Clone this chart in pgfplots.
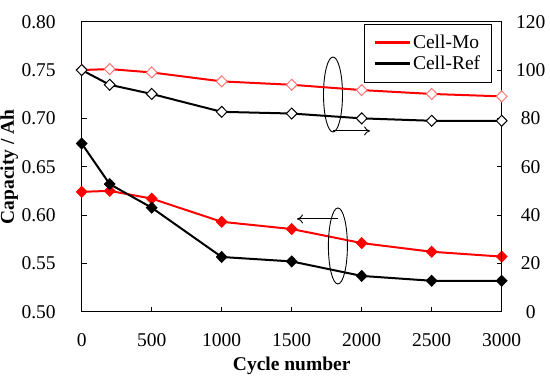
\documentclass[border=0pt]{standalone}
\usepackage{pgfplots}
\pgfplotsset{compat=1.18}
\usetikzlibrary{arrows.meta}
\usepackage{fontspec}
\setmainfont{Liberation Serif}
\begin{document}
\begin{tikzpicture}[font=\fontsize{19.5}{23}\selectfont]
\useasboundingbox (-81.7pt,-76.3pt) rectangle ++(550pt,388pt);
\pgfplotsset{
  every axis/.append style={
    at={(0pt,0pt)}, anchor=south west,
    scale only axis, width=420pt, height=290pt,
    xmin=0, xmax=3000,
    /pgf/number format/assume math mode=true,
    /pgf/number format/1000 sep={},
    tick align=inside, major tick length=5pt,
    axis line style={line width=1.6pt},
    tick style={line width=1pt, black},
    ticklabel style={font=\fontsize{19.5}{23}\selectfont},
    label style={font=\fontsize{19.5}{23}\selectfont\bfseries},
    clip=false,
  },
  mo/.style={red, line width=2pt, mark=diamond*, mark size=5.5pt, mark options={xscale=1.3, solid, fill=red, draw=red, line width=0.8pt}},
  rf/.style={black, line width=2pt, mark=diamond*, mark size=5.5pt, mark options={xscale=1.3, solid, fill=black, draw=black, line width=0.8pt}},
  mor/.style={red, line width=2pt, mark=diamond*, mark size=5.5pt, mark options={xscale=1.3, solid, fill=white, draw=red!55, line width=1pt}},
  rfr/.style={black, line width=2pt, mark=diamond*, mark size=5.5pt, mark options={xscale=1.3, solid, fill=white, draw=black, line width=1pt}},
}
\begin{axis}[
  ymin=0.5, ymax=0.8,
  ytick={0.5,0.55,0.6,0.65,0.7,0.75,0.8},
  y tick label style={/pgf/number format/fixed, /pgf/number format/fixed zerofill, /pgf/number format/precision=2, xshift=-22.5pt},
  xtick={0,500,1000,1500,2000,2500,3000},
  x tick label style={anchor=north, yshift=-18pt},
  ytick pos=left, xtick pos=bottom,
  xlabel={Cycle number},
  ylabel={Capacity / Ah},
  xlabel style={at={(rel axis cs:0.5,0)}, anchor=north, yshift=-42pt},
  ylabel style={at={(rel axis cs:0,0.5)}, anchor=south, inner sep=0pt, yshift=63.5pt},
]
\addplot[mo] coordinates {(0,0.624) (200,0.625) (500,0.617) (1000,0.593) (1500,0.5855) (2000,0.571) (2500,0.562) (3000,0.557)};
\addplot[rf] coordinates {(0,0.674) (200,0.632) (500,0.6076) (1000,0.5566) (1500,0.552) (2000,0.537) (2500,0.532) (3000,0.532)};
% annotations
\draw[line width=0.9pt] (axis cs:1795,0.7247) ellipse [x radius=9.5pt, y radius=37.5pt];
\draw[line width=0.9pt,-{To[length=6pt,width=9pt]}] (axis cs:1795,0.687) -- (axis cs:2060,0.687);
\draw[line width=0.9pt] (axis cs:1830,0.568) ellipse [x radius=9.5pt, y radius=38pt];
\draw[line width=0.9pt,-{To[length=6pt,width=9pt]}] (axis cs:1830,0.596) -- (axis cs:1538,0.596);
\end{axis}
\begin{axis}[
  ymin=0, ymax=120,
  ytick={0,20,40,60,80,100,120},
  axis y line*=right, axis x line=none,
  y tick label style={anchor=center, xshift=29pt},
  legend style={at={(0.976,0.992)}, anchor=north east, draw=black, line width=0.8pt, fill=white, font=\fontsize{19.5}{23}\selectfont, inner xsep=9pt, inner ysep=9pt, row sep=1.5pt, cells={anchor=west}},
  legend image code/.code={\draw[#1, line width=3pt] (0pt,0pt) -- (35pt,0pt);},
]
\addplot[mor, forget plot] coordinates {(0,100) (200,100.4) (500,99.0) (1000,95.3) (1500,93.9) (2000,91.7) (2500,90.1) (3000,89.1)};
\addplot[rfr, forget plot] coordinates {(0,100) (200,93.9) (500,90.1) (1000,82.7) (1500,82.0) (2000,80.0) (2500,79.0) (3000,79.0)};
\addlegendimage{red}
\addlegendentry{Cell-Mo}
\addlegendimage{black}
\addlegendentry{Cell-Ref}
\end{axis}
\end{tikzpicture}
\end{document}
